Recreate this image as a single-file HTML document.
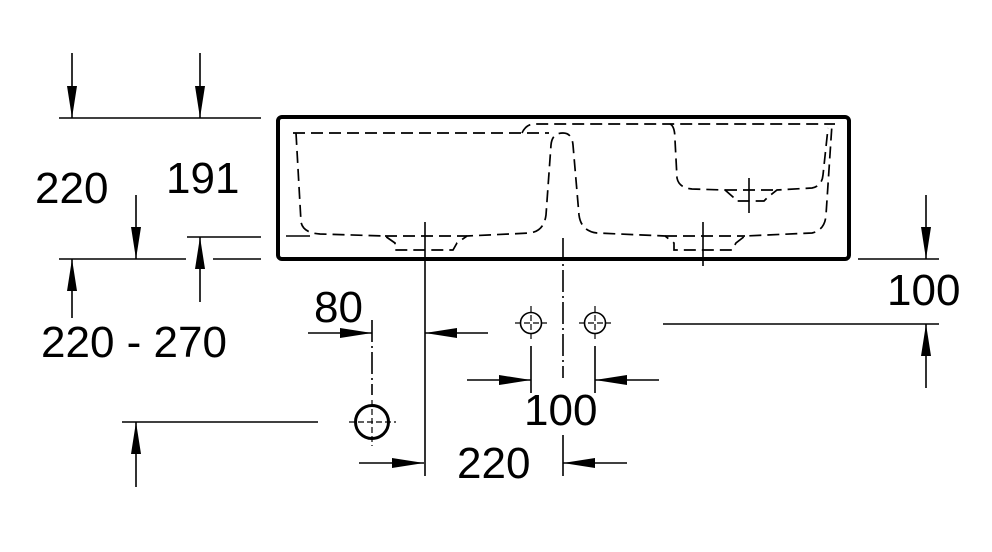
<!DOCTYPE html>
<html><head><meta charset="utf-8"><style>
html,body{margin:0;padding:0;background:#fff;}
svg{display:block;}
text{font-family:"Liberation Sans",Arial,sans-serif;font-size:44px;fill:#000;}
</style></head><body>
<svg width="992" height="552" viewBox="0 0 992 552" xmlns="http://www.w3.org/2000/svg">
<defs>
<marker id="ah" viewBox="0 0 32 10" refX="32" refY="5" markerWidth="32" markerHeight="10" markerUnits="userSpaceOnUse" orient="auto">
<path d="M0,0 L32,5 L0,10 Z" fill="#000"/>
</marker>
</defs>
<g stroke="#000" stroke-width="1.6" fill="none">
<rect x="278" y="117" width="571" height="142" rx="4" stroke-width="4"/>
<g stroke-dasharray="12,6" stroke-width="1.7">
<path d="M293,133 L549,133"/>
<path d="M296,133 L301,222 Q303,233 320,234 L385,236 L395,243 L395,250 L453,250 L457,243 L467,236 L530,233 Q544,231 546,215 L551,145 Q552,133 563,133 Q572,133 573,145 L579,215 Q581,231 597,233 L665,236 L674,243 L674,250 L732,250 L736,243 L745,236 L812,233 Q825,230 826,215 L832,124"/>
<path d="M522,133 Q526,124 535,124 L835,124"/>
<path d="M385,236 L467,236 M665,236 L745,236"/>
<path d="M670,124 Q675,126 675,140 L677,178 Q679,188 692,189 L725,190 L733,197 L736,201 L764,201 L768,197 L777,190 L812,188 Q822,186 823,175 L828,128"/>
<path d="M725,190 L777,190"/>
</g>
<path d="M286,236 L310,236"/>
<path d="M425,222 L425,476"/>
<path d="M563,238 L563,378" stroke-dasharray="22,4,2,4"/>
<path d="M703,222 L703,266"/>
<path d="M749,178 L749,213"/>
<path d="M59,118 L261,118"/>
<path d="M72,53 L72,118" marker-end="url(#ah)"/>
<path d="M200,53 L200,118" marker-end="url(#ah)"/>
<path d="M187,237 L261,237"/>
<path d="M59,259 L186,259 M213,259 L261,259"/>
<path d="M136,195 L136,259" marker-end="url(#ah)"/>
<path d="M200,302 L200,237" marker-end="url(#ah)"/>
<path d="M72,318 L72,259" marker-end="url(#ah)"/>
<path d="M858,259 L939,259"/>
<path d="M926,195 L926,259" marker-end="url(#ah)"/>
<path d="M663,324 L939,324"/>
<path d="M926,388 L926,324" marker-end="url(#ah)"/>
<path d="M308,333 L372,333" marker-end="url(#ah)"/>
<path d="M488,333 L425,333" marker-end="url(#ah)"/>
<path d="M372,320 L372,395" stroke-dasharray="22,4,2,4"/>
<circle cx="531" cy="323" r="10.5"/>
<circle cx="595" cy="323" r="10.5"/>
<path d="M515,323 L547,323 M579,323 L611,323 M531,306 L531,340 M595,306 L595,340" stroke-dasharray="6,3" stroke-width="1.2"/>
<path d="M531,346 L531,393 M595,346 L595,393"/>
<path d="M467,380 L531,380" marker-end="url(#ah)"/>
<path d="M659,380 L595,380" marker-end="url(#ah)"/>
<circle cx="372" cy="422" r="16.5" stroke-width="3"/>
<path d="M349,422 L396,422 M372,400 L372,446" stroke-dasharray="6,3" stroke-width="1.2"/>
<path d="M122,422 L318,422"/>
<path d="M136,487 L136,422" marker-end="url(#ah)"/>
<path d="M359,463 L424,463" marker-end="url(#ah)"/>
<path d="M627,463 L563,463" marker-end="url(#ah)"/>
<path d="M563,435 L563,476"/>
</g>
<text x="35" y="203">220</text>
<text x="166" y="193">191</text>
<text x="41" y="357">220 - 270</text>
<text x="314" y="322">80</text>
<text x="524" y="425">100</text>
<text x="457" y="478">220</text>
<text x="887" y="305">100</text>
</svg>
</body></html>
